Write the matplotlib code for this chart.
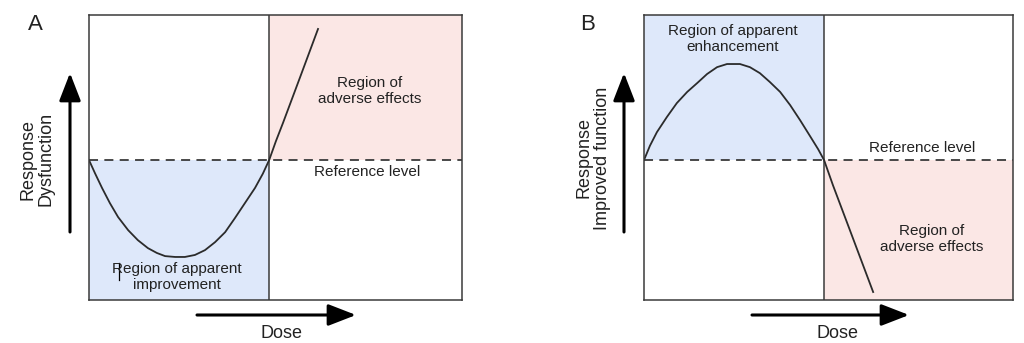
import numpy as np
import matplotlib
matplotlib.use("Agg")
import matplotlib.pyplot as plt

plt.rcParams['font.family'] = ['Liberation Sans', 'DejaVu Sans']

# ---- data (dose in arbitrary units 0-10, response relative to reference level 0) ----
dose_a = [0, 0.16, 0.35, 0.56, 0.78, 1.05, 1.31, 1.58, 1.82, 2.04, 2.31, 2.57, 2.84, 3.11,
          3.38, 3.65, 3.91, 4.18, 4.45, 4.66, 4.83, 5.01, 5.20, 5.66, 6.14]
resp_a = [0, -0.46, -0.98, -1.51, -2.00, -2.46, -2.81, -3.09, -3.26, -3.37, -3.40, -3.40, -3.33, -3.16,
          -2.88, -2.53, -2.04, -1.51, -0.98, -0.48, 0, 0.66, 1.30, 2.91, 4.60]

dose_b = [0, 0.16, 0.35, 0.62, 0.89, 1.17, 1.44, 1.71, 1.98, 2.25, 2.60, 2.87, 3.14, 3.41,
          3.69, 3.96, 4.23, 4.50, 4.72, 4.88, 5.12, 5.58, 6.21]
resp_b = [0, 0.50, 0.98, 1.51, 2.00, 2.39, 2.70, 3.02, 3.26, 3.37, 3.37, 3.26, 3.05, 2.74,
          2.39, 1.93, 1.40, 0.84, 0.38, 0, -0.88, -2.46, -4.63]

split_a = 4.83
split_b = 4.88
reference = 0
ylo, yhi = -4.91, 5.09

blue = '#dee8fa'
pink = '#fbe7e5'
edge = '#3a3a3a'
txt = '#222222'

fig = plt.figure(figsize=(10.24, 3.43), dpi=100)
W, H = 1024, 343

axA = fig.add_axes([89 / W, 43 / H, 373 / W, 285 / H])
axB = fig.add_axes([644 / W, 43 / H, 369 / W, 285 / H])


def panel(ax, dose, resp, split):
    ax.set_xlim(0, 10)
    ax.set_ylim(ylo, yhi)
    ax.axvline(split, color=edge, lw=1.1)
    ax.axhline(reference, color=edge, lw=1.3, ls=(0, (5, 3.5)))
    ax.plot(dose, resp, color='#2b2b2b', lw=1.3, solid_joinstyle='round')
    ax.set_xticks([])
    ax.set_yticks([])
    for s in ax.spines.values():
        s.set_color(edge)
        s.set_linewidth(1.1)


# panel A
axA.fill_between([0, split_a], ylo, reference, color=blue, lw=0)
axA.fill_between([split_a, 10], reference, yhi, color=pink, lw=0)
panel(axA, dose_a, resp_a, split_a)
axA.text(7.53, 2.42, 'Region of\nadverse effects', ha='center', va='center',
         fontsize=11, color=txt, linespacing=1.25)
axA.text(7.45, -0.42, 'Reference level', ha='center', va='center', fontsize=11, color=txt)
axA.text(2.36, -4.1, 'Region of apparent\nimprovement', ha='center', va='center',
         fontsize=11, color=txt, linespacing=1.25)
axA.plot([0.80, 0.80], [-3.61, -4.21], color='black', lw=0.9)

# panel B
axB.fill_between([0, split_b], reference, yhi, color=blue, lw=0)
axB.fill_between([split_b, 10], ylo, reference, color=pink, lw=0)
panel(axB, dose_b, resp_b, split_b)
axB.text(2.41, 4.25, 'Region of apparent\nenhancement', ha='center', va='center',
         fontsize=11, color=txt, linespacing=1.25)
axB.text(7.53, 0.42, 'Reference level', ha='center', va='center', fontsize=11, color=txt)
axB.text(7.80, -2.77, 'Region of\nadverse effects', ha='center', va='center',
         fontsize=11, color=txt, linespacing=1.25)

# arrows and labels in figure pixels
arrow = dict(arrowstyle='-|>,head_length=0.85,head_width=0.33', color='black',
             lw=2.2, mutation_scale=20, shrinkA=0, shrinkB=0)


def fig_arrow(x0, y0, x1, y1):
    fig.add_artist(matplotlib.patches.FancyArrowPatch(
        (x0 / W, 1 - y0 / H), (x1 / W, 1 - y1 / H), transform=fig.transFigure, **arrow))


fig_arrow(70, 232, 70, 73)
fig_arrow(197, 315, 356, 315)
fig_arrow(624, 232, 624, 73)
fig_arrow(752, 315, 909, 315)

fig.text(37 / W, 1 - 159 / H, 'Response\nDysfunction', rotation=90, ha='center', va='center',
         fontsize=13, color=txt, linespacing=1.15)
fig.text(593 / W, 1 - 158 / H, 'Response\nImproved function', rotation=90, ha='center',
         va='center', fontsize=13, color=txt, linespacing=1.15)
fig.text(282 / W, 1 - 334 / H, 'Dose', ha='center', va='center', fontsize=13, color=txt)
fig.text(837 / W, 1 - 334 / H, 'Dose', ha='center', va='center', fontsize=13, color=txt)
fig.text(35 / W, 1 - 25 / H, 'A', ha='center', va='center', fontsize=16, color=txt)
fig.text(588 / W, 1 - 25 / H, 'B', ha='center', va='center', fontsize=16, color=txt)

fig.savefig('out.png', dpi=100)
